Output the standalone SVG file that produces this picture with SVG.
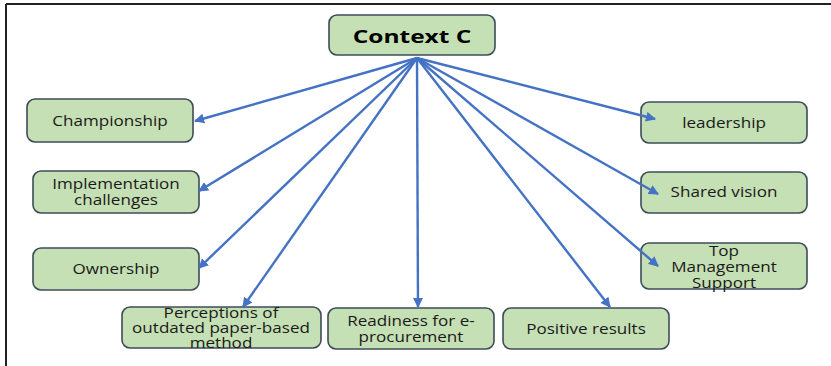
<svg xmlns="http://www.w3.org/2000/svg" width="831" height="366" viewBox="0 0 831 366">
  <style>
    .box { fill: #c5e0b4; stroke: #3e4c59; stroke-width: 1.6; }
    .lbl { font-family: "Open Sans", "Liberation Sans", sans-serif; font-size: 14px; fill: #1a1a1a; text-anchor: middle; dominant-baseline: central; }
    .title { font-family: "Open Sans", "Liberation Sans", sans-serif; font-size: 18px; font-weight: bold; fill: #000; text-anchor: middle; dominant-baseline: central; }
    .arrow { stroke: #4472c4; stroke-width: 2.4; fill: none; marker-end: url(#head); }
  </style>
  <defs>
    <marker id="head" viewBox="0 0 10 10" refX="9" refY="5" markerWidth="4.2" markerHeight="4.2" orient="auto" markerUnits="strokeWidth">
      <path d="M0,0 L10,5 L0,10 z" fill="#4472c4"/>
    </marker>
  </defs>
  <rect width="831" height="366" fill="#fff"/>
  <!-- frame -->
  <line x1="6" y1="4" x2="831" y2="4" stroke="#222" stroke-width="2"/>
  <line x1="6" y1="4" x2="6" y2="366" stroke="#222" stroke-width="2"/>

  <g id="context-c">
    <rect class="box" x="329" y="15" width="166" height="40" rx="8"/>
    <text class="title" transform="translate(412,36) scale(1.36,1)">Context C</text>
  </g>
  <g id="championship">
    <rect class="box" x="27" y="99" width="166" height="43" rx="8"/>
    <text class="lbl" transform="translate(110,121) scale(1.22,1)">Championship</text>
  </g>
  <g id="implementation-challenges">
    <rect class="box" x="33" y="171" width="166" height="42" rx="8"/>
    <text class="lbl" transform="translate(116,184) scale(1.22,1)">Implementation</text>
    <text class="lbl" transform="translate(116,200) scale(1.22,1)">challenges</text>
  </g>
  <g id="ownership">
    <rect class="box" x="33" y="248" width="166" height="42" rx="8"/>
    <text class="lbl" transform="translate(116,269) scale(1.22,1)">Ownership</text>
  </g>
  <g id="perceptions">
    <rect class="box" x="122" y="307" width="199" height="41" rx="8"/>
    <text class="lbl" transform="translate(221,313) scale(1.22,1)">Perceptions of</text>
    <text class="lbl" transform="translate(221,328) scale(1.22,1)">outdated paper-based</text>
    <text class="lbl" transform="translate(221,343) scale(1.22,1)">method</text>
  </g>
  <g id="readiness">
    <rect class="box" x="328" y="308" width="166" height="41" rx="8"/>
    <text class="lbl" transform="translate(411,321) scale(1.22,1)">Readiness for e-</text>
    <text class="lbl" transform="translate(411,337) scale(1.22,1)">procurement</text>
  </g>
  <g id="positive-results">
    <rect class="box" x="503" y="308" width="166" height="41" rx="8"/>
    <text class="lbl" transform="translate(586,329) scale(1.22,1)">Positive results</text>
  </g>
  <g id="leadership">
    <rect class="box" x="641" y="102" width="166" height="41" rx="8"/>
    <text class="lbl" transform="translate(724,123) scale(1.22,1)">leadership</text>
  </g>
  <g id="shared-vision">
    <rect class="box" x="641" y="172" width="166" height="41" rx="8"/>
    <text class="lbl" transform="translate(724,192) scale(1.22,1)">Shared vision</text>
  </g>
  <g id="top-management-support">
    <rect class="box" x="641" y="243" width="166" height="46" rx="8"/>
    <text class="lbl" transform="translate(724,251) scale(1.22,1)">Top</text>
    <text class="lbl" transform="translate(724,267) scale(1.22,1)">Management</text>
    <text class="lbl" transform="translate(724,283) scale(1.22,1)">Support</text>
  </g>

  <g id="connectors">
    <line class="arrow" x1="417" y1="58" x2="195" y2="121"/>
    <line class="arrow" x1="417" y1="58" x2="199" y2="191"/>
    <line class="arrow" x1="417" y1="58" x2="199" y2="268"/>
    <line class="arrow" x1="417" y1="58" x2="243" y2="307"/>
    <line class="arrow" x1="417" y1="58" x2="418" y2="307"/>
    <line class="arrow" x1="417" y1="58" x2="610" y2="307"/>
    <line class="arrow" x1="417" y1="58" x2="658" y2="266"/>
    <line class="arrow" x1="417" y1="58" x2="658" y2="194"/>
    <line class="arrow" x1="417" y1="58" x2="655" y2="119"/>
  </g>
</svg>
